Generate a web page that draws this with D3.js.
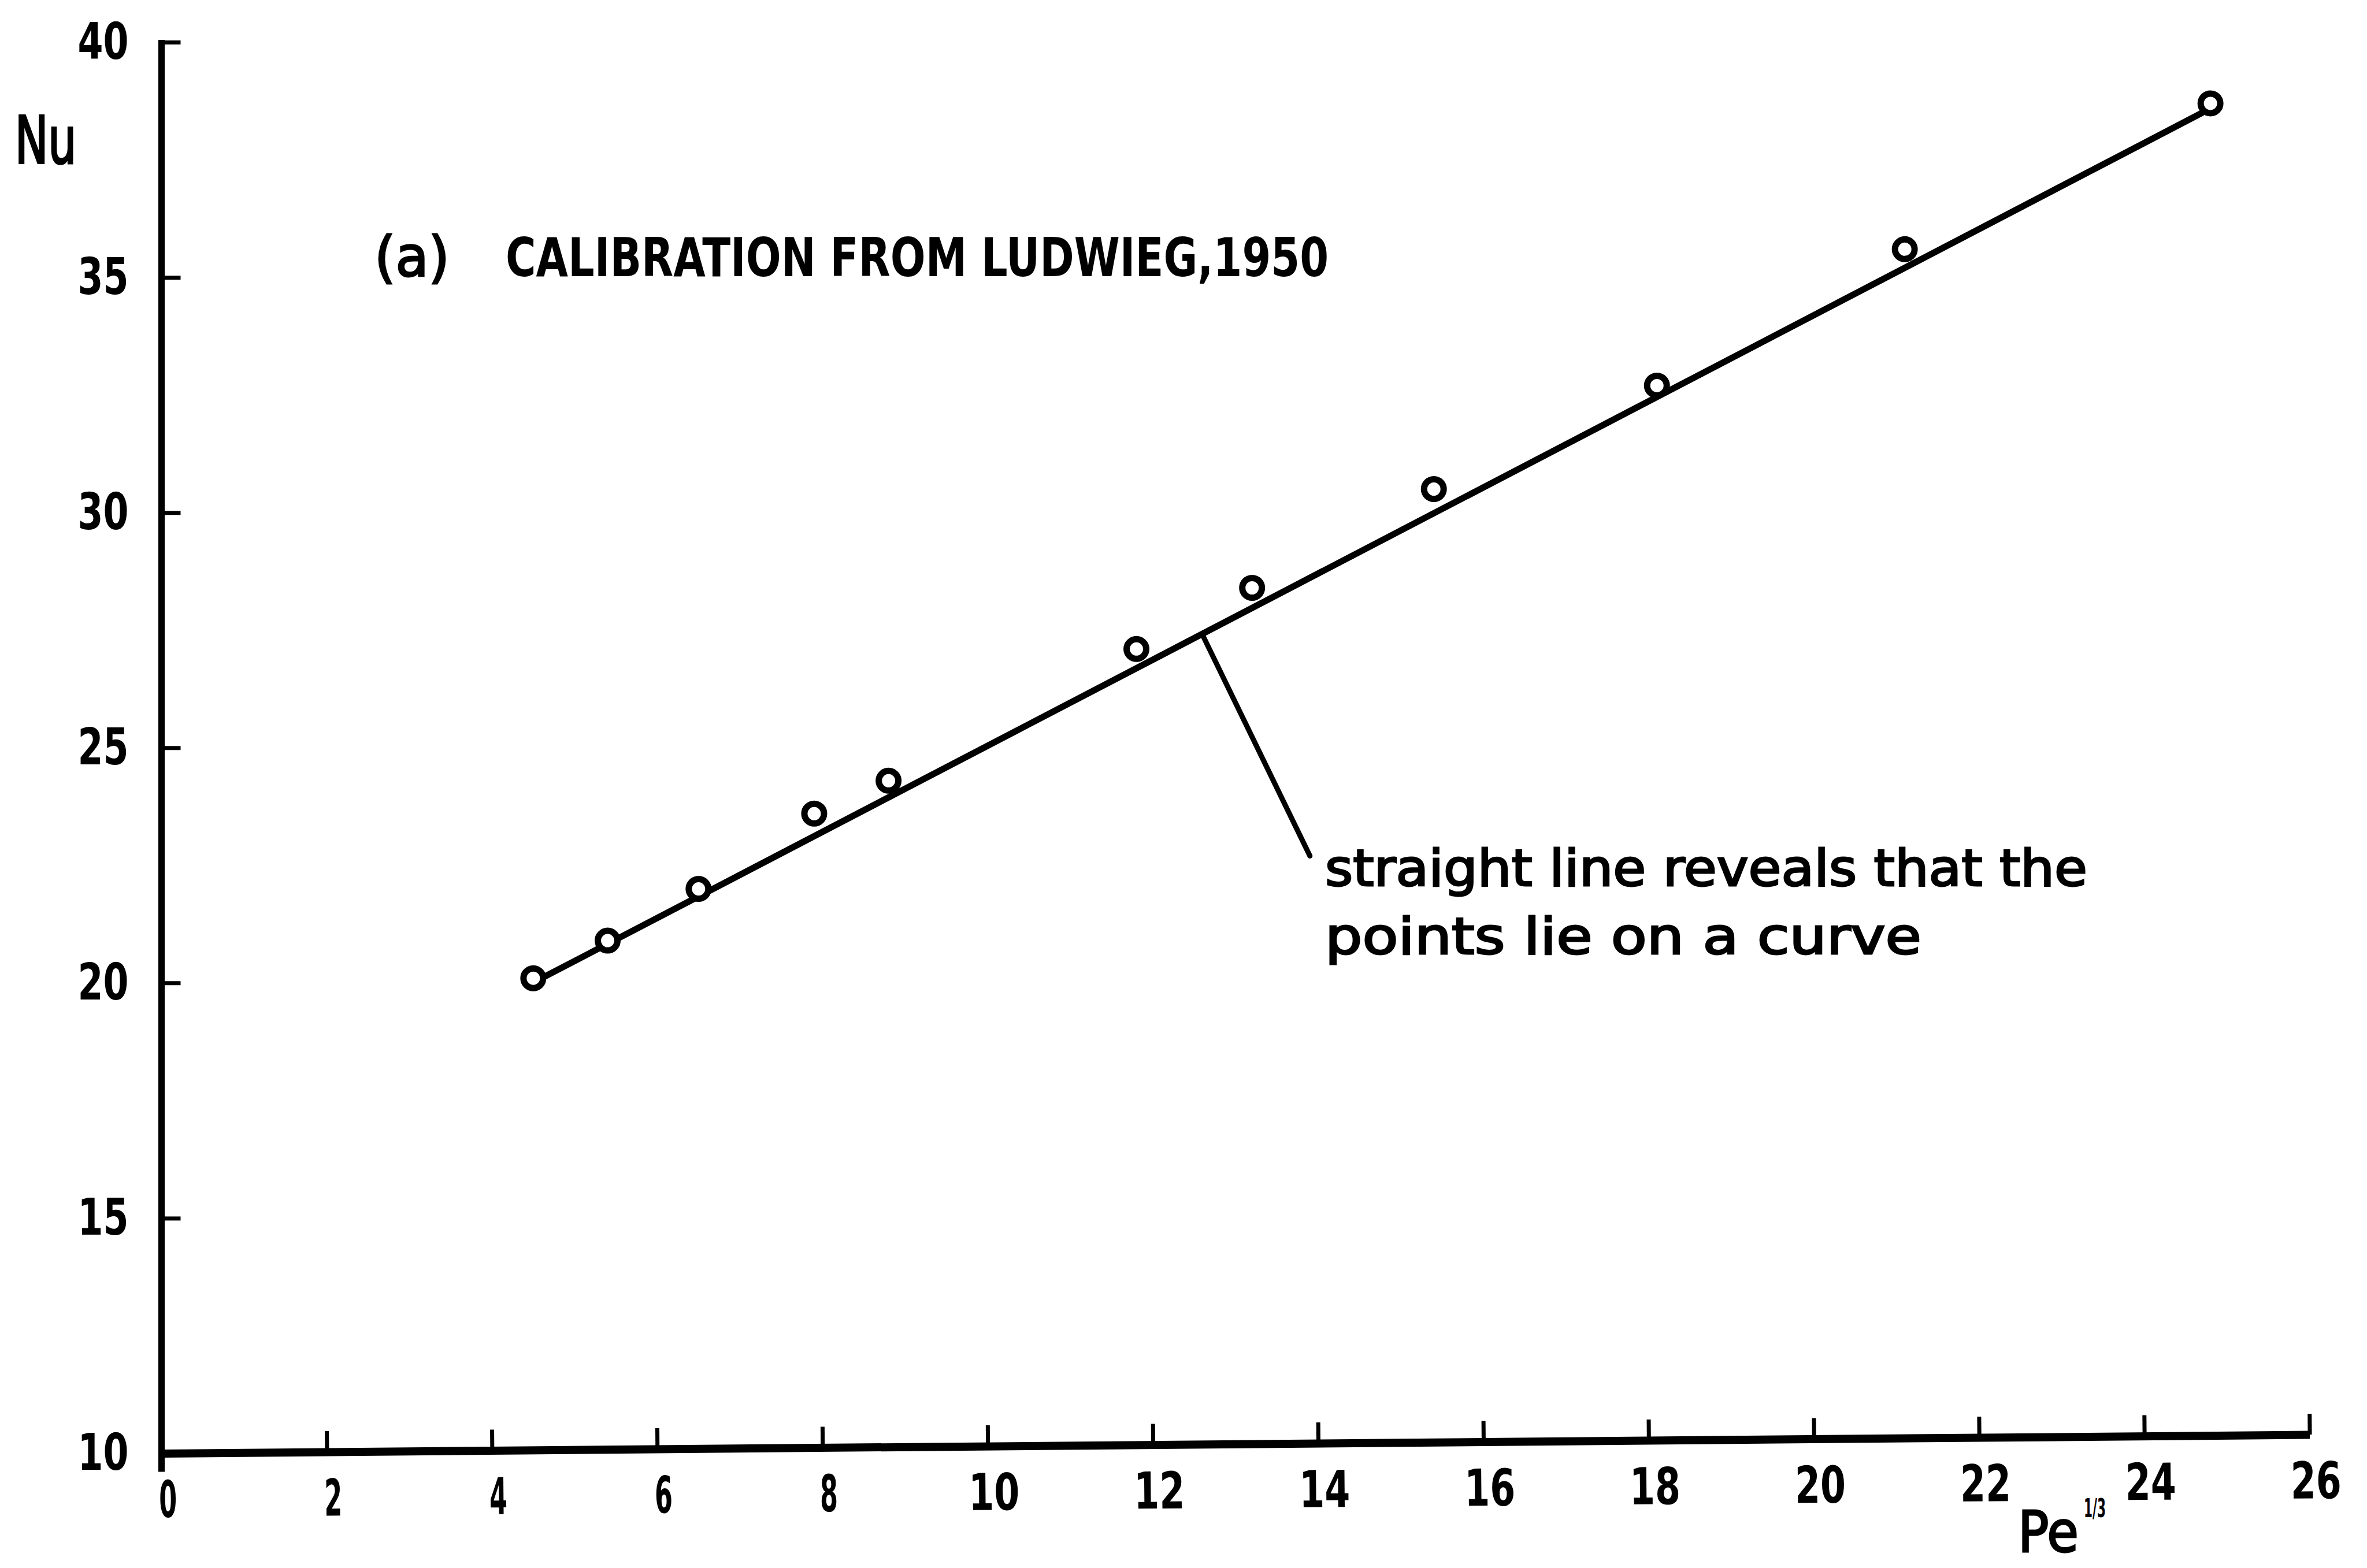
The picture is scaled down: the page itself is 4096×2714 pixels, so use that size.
<!DOCTYPE html>
<html>
<head>
<meta charset="utf-8">
<script src="https://cdn.jsdelivr.net/npm/d3@7"></script>
<style>
  html, body { margin: 0; padding: 0; background: #fff; }
  svg { display: block; }
</style>
</head>
<body>
<div class="chart-container"></div>
<script>
const width = 4096;
const height = 2714;

// Pe^(1/3) and Nu of the calibration points
const peValues = [4.5, 5.4, 6.5, 7.9, 8.8, 11.8, 13.2, 15.4, 18.1, 21.1, 24.8];
const nuValues = [20.1, 20.9, 22.0, 23.6, 24.3, 27.1, 28.4, 30.5, 32.7, 35.6, 38.7];

// the drawn straight line, and the leader from it to the note
const fitPe = [4.6, 24.7];
const fitNu = [20.1, 38.5];
const leaderPe = [12.6, 13.9];
const leaderNu = [27.4, 22.7];

const xTicks = [0, 2, 4, 6, 8, 10, 12, 14, 16, 18, 20, 22, 24, 26];
const yTicks = [10, 15, 20, 25, 30, 35, 40];
const titleLabel = "(a)";
const titleText = "CALIBRATION FROM LUDWIEG,1950";
const noteLines = ["straight line reveals that the", "points lie on a curve"];

const x = d3.scaleLinear().domain([0, 26]).range([279.5, 3996.7]);
const y = d3.scaleLinear().domain([10, 40]).range([2515.5, 73.1]);

const svg = d3.select(".chart-container").append("svg")
  .attr("width", width)
  .attr("height", height)
  .attr("viewBox", `0 0 ${width} ${height}`)
  .style("background", "#fff");

// tick labels are a narrow plotter font, so squeeze them to size
const labelWidth = s => (s.length == 1 ? 31 : 88);

// y axis, ticks pointing inwards
const yAxis = svg.append("g")
  .attr("transform", `translate(${x(0)},0)`)
  .call(d3.axisLeft(y).tickValues(yTicks).tickSize(-33).tickPadding(57).tickSizeOuter(0));

yAxis.select(".domain")
  .attr("d", `M0,${y(10) + 32}V${y(40) - 4}`)
  .attr("stroke", "#000")
  .attr("stroke-width", 11);

yAxis.selectAll(".tick line")
  .attr("stroke", "#000")
  .attr("stroke-width", 7);

yAxis.selectAll(".tick text")
  .attr("fill", "#000")
  .style("font-family", "'DejaVu Sans', sans-serif")
  .style("font-weight", "bold")
  .style("font-size", "88px")
  .attr("textLength", d => labelWidth(String(d)))
  .attr("lengthAdjust", "spacingAndGlyphs");

// x axis; the original is drawn a little crooked
const xAxis = svg.append("g")
  .attr("transform", `translate(0,${y(10)}) rotate(-0.5, ${x(0)}, 0)`)
  .call(d3.axisBottom(x).tickValues(xTicks).tickSize(-36).tickPadding(48).tickSizeOuter(0));

xAxis.select(".domain")
  .attr("stroke", "#000")
  .attr("stroke-width", 14);

xAxis.selectAll(".tick line")
  .attr("stroke", "#000")
  .attr("stroke-width", 7);

xAxis.selectAll(".tick text")
  .attr("fill", "#000")
  .attr("dx", 10)
  .style("font-family", "'DejaVu Sans', sans-serif")
  .style("font-weight", "bold")
  .style("font-size", "88px")
  .attr("textLength", d => labelWidth(String(d)))
  .attr("lengthAdjust", "spacingAndGlyphs");

// axis titles
svg.append("text")
  .attr("x", 26)
  .attr("y", 282)
  .attr("textLength", 106)
  .attr("lengthAdjust", "spacingAndGlyphs")
  .attr("stroke", "#000")
  .attr("stroke-width", 4)
  .style("font-family", "'DejaVu Sans', sans-serif")
  .style("font-size", "112px")
  .text("Nu");

svg.append("text")
  .attr("x", 3492)
  .attr("y", 2686)
  .attr("textLength", 105)
  .attr("lengthAdjust", "spacingAndGlyphs")
  .attr("stroke", "#000")
  .attr("stroke-width", 3)
  .style("font-family", "'DejaVu Sans', sans-serif")
  .style("font-size", "98px")
  .text("Pe");

svg.append("text")
  .attr("x", 3606)
  .attr("y", 2626)
  .attr("textLength", 38)
  .attr("lengthAdjust", "spacingAndGlyphs")
  .style("font-family", "'DejaVu Sans', sans-serif")
  .style("font-size", "44px")
  .style("font-weight", "bold")
  .text("1/3");

// panel title
svg.append("text")
  .attr("x", 648)
  .attr("y", 478)
  .attr("textLength", 130)
  .attr("lengthAdjust", "spacingAndGlyphs")
  .attr("stroke", "#000")
  .attr("stroke-width", 3)
  .style("font-family", "'DejaVu Sans', sans-serif")
  .style("font-size", "96px")
  .text(titleLabel);

svg.append("text")
  .attr("x", 875)
  .attr("y", 478)
  .attr("textLength", 1424)
  .attr("lengthAdjust", "spacingAndGlyphs")
  .style("font-family", "'DejaVu Sans', sans-serif")
  .style("font-weight", "bold")
  .style("font-size", "92px")
  .text(titleText);

// straight line through the points
const fitLine = d3.line()
  .x(d => x(d[0]))
  .y(d => y(d[1]));

svg.append("path")
  .attr("d", fitLine(d3.zip(fitPe, fitNu)))
  .attr("fill", "none")
  .attr("stroke", "#000")
  .attr("stroke-width", 11)
  .attr("stroke-linecap", "round");

svg.append("path")
  .attr("d", fitLine(d3.zip(leaderPe, leaderNu)))
  .attr("fill", "none")
  .attr("stroke", "#000")
  .attr("stroke-width", 9)
  .attr("stroke-linecap", "round");

// the measured points, open circles
svg.append("g")
  .selectAll("circle")
  .data(d3.zip(peValues, nuValues))
  .join("circle")
  .attr("cx", d => x(d[0]))
  .attr("cy", d => y(d[1]))
  .attr("r", 17)
  .attr("fill", "#fff")
  .attr("stroke", "#000")
  .attr("stroke-width", 11);

// note
const widths = [1319, 1032];
svg.append("g")
  .selectAll("text")
  .data(noteLines)
  .join("text")
  .attr("x", 2293)
  .attr("y", (d, i) => 1533 + i * 118)
  .attr("textLength", (d, i) => widths[i])
  .attr("lengthAdjust", "spacingAndGlyphs")
  .attr("stroke", "#000")
  .attr("stroke-width", 3)
  .style("font-family", "'DejaVu Sans', sans-serif")
  .style("font-size", "88px")
  .text(d => d);
</script>
</body>
</html>
